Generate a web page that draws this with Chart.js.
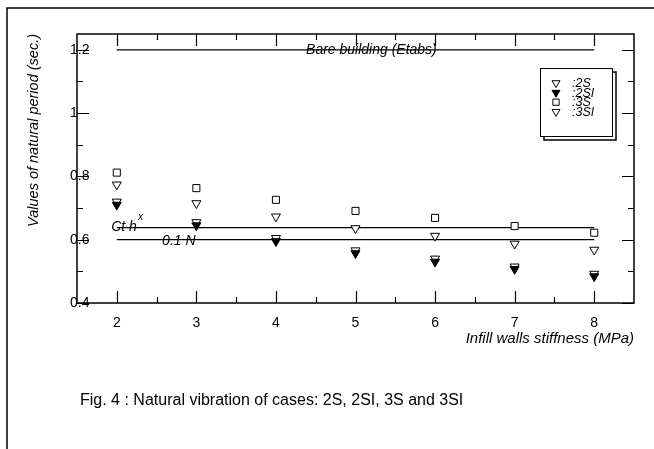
<!DOCTYPE html>
<html>
<head>
<meta charset="utf-8">
<script src="https://cdn.jsdelivr.net/npm/chart.js@4.4.0/dist/chart.umd.min.js"></script>
<style>
    body { margin: 0; background: #fff; }
    canvas { display: block; }
</style>
</head>
<body>
<canvas id="chart" width="654" height="449"></canvas>
<script>
// values
var stiffness = [2, 3, 4, 5, 6, 7, 8];
var period2S = [0.774, 0.715, 0.673, 0.636, 0.612, 0.587, 0.568];
var period2SI = [0.710, 0.645, 0.595, 0.557, 0.530, 0.507, 0.484];
var period3S = [0.812, 0.763, 0.726, 0.691, 0.669, 0.643, 0.622];
var period3SI = [0.720, 0.655, 0.605, 0.566, 0.540, 0.515, 0.492];
var seriesNames = ['2S', '2SI', '3S', '3SI'];

// horizontal reference values
var bareBuilding = 1.2;
var ctHx = 0.638;
var tenthN = 0.6;

var xTickValues = [2, 3, 4, 5, 6, 7, 8];
var yTickValues = [0.4, 0.6, 0.8, 1.0, 1.2];

var FONT = '"Liberation Sans", Arial, sans-serif';

var points = function (ys) {
    return stiffness.map(function (x, i) {
        return {x: x, y: ys[i]};
    });
};

var hline = function (y) {
    return [{x: stiffness[0], y: y}, {x: stiffness[stiffness.length - 1], y: y}];
};

var marker = function (label, ys, style, fill, rot) {
    return {
        label: label,
        data: points(ys),
        pointStyle: style,
        pointRotation: rot,
        pointRadius: style === 'rect' ? 5 : 5.2,
        pointBorderWidth: 1,
        backgroundColor: fill,
        borderColor: '#000',
        pointBackgroundColor: fill,
        pointBorderColor: '#000',
        showLine: false
    };
};

var refLine = function (label, y) {
    return {
        label: label,
        data: hline(y),
        showLine: true,
        borderColor: '#000',
        borderWidth: 1.2,
        pointRadius: 0,
        fill: false
    };
};

var tickValuesHook = function (values) {
    return function (scale) {
        scale.ticks = values.map(function (v) {
            return {value: v};
        });
    };
};

// frame, inward ticks, legend box and line annotations
var figurePlugin = {
    id: 'figure',
    afterDraw: function (chart) {
        var ctx = chart.ctx;
        var a = chart.chartArea;
        var xs = chart.scales.x;
        var ys = chart.scales.y;
        ctx.save();
        ctx.strokeStyle = '#000';
        ctx.fillStyle = '#000';

        // page frame (left and top only are visible)
        ctx.lineWidth = 1.5;
        ctx.beginPath();
        ctx.moveTo(7, 449);
        ctx.lineTo(7, 8);
        ctx.lineTo(654, 8);
        ctx.stroke();

        // plot frame
        ctx.strokeRect(a.left, a.top, a.right - a.left, a.bottom - a.top);

        // ticks pointing inward on all four sides
        ctx.lineWidth = 1.2;
        ctx.beginPath();
        var tickX = function (v, len) {
            var px = Math.round(xs.getPixelForValue(v)) + 0.5;
            ctx.moveTo(px, a.bottom);
            ctx.lineTo(px, a.bottom - len);
            ctx.moveTo(px, a.top);
            ctx.lineTo(px, a.top + len);
        };
        var tickY = function (v, len) {
            var py = Math.round(ys.getPixelForValue(v)) + 0.5;
            ctx.moveTo(a.left, py);
            ctx.lineTo(a.left + len, py);
            ctx.moveTo(a.right, py);
            ctx.lineTo(a.right - len, py);
        };
        xTickValues.forEach(function (v, i) {
            tickX(v, 12);
            if (i < xTickValues.length - 1) tickX((v + xTickValues[i + 1]) / 2, 6);
        });
        yTickValues.forEach(function (v, i) {
            tickY(v, 12);
            if (i < yTickValues.length - 1) tickY((v + yTickValues[i + 1]) / 2, 6);
        });
        ctx.stroke();

        // labels on the horizontal lines
        ctx.font = 'italic 14px ' + FONT;
        ctx.textBaseline = 'middle';
        ctx.textAlign = 'center';
        ctx.fillText('Bare building (Etabs)', xs.getPixelForValue(5.2), ys.getPixelForValue(bareBuilding));
        ctx.fillText('0.1 N', xs.getPixelForValue(2.78), ys.getPixelForValue(tenthN) + 1);
        ctx.textAlign = 'left';
        var cx = xs.getPixelForValue(1.93);
        var cy = ys.getPixelForValue(ctHx) - 1;
        ctx.font = 'italic 14px ' + FONT;
        ctx.fillText('Ct h', cx, cy);
        var w = ctx.measureText('Ct h').width;
        ctx.font = 'italic 10px ' + FONT;
        ctx.fillText('x', cx + w + 1, cy - 9);

        // legend box with shadow
        var lx = 540, ly = 68, lw = 72, lh = 68;
        ctx.lineWidth = 1.5;
        ctx.strokeRect(lx + 4, ly + 4, lw, lh);
        ctx.fillStyle = '#fff';
        ctx.fillRect(lx, ly, lw, lh);
        ctx.lineWidth = 1;
        ctx.strokeRect(lx + 0.5, ly + 0.5, lw, lh);
        chart.data.datasets.slice(0, 4).forEach(function (ds, i) {
            var y = ly + 15 + i * 9.6;
            ctx.fillStyle = ds.backgroundColor;
            ctx.strokeStyle = '#000';
            ctx.lineWidth = 1;
            Chart.helpers.drawPoint(ctx, {
                pointStyle: ds.pointStyle,
                radius: ds.pointStyle === 'rect' ? 4.4 : 4.6,
                rotation: ds.pointRotation,
                borderWidth: 1
            }, lx + 16, y);
            ctx.fillStyle = '#000';
            ctx.font = 'italic 12.5px ' + FONT;
            ctx.textAlign = 'left';
            ctx.fillText(':' + ds.label, lx + 32, y + 0.5);
        });

        // caption
        ctx.font = '16px ' + FONT;
        ctx.textAlign = 'left';
        ctx.fillText('Fig. 4 : Natural vibration of cases: 2S, 2SI, 3S and 3SI', 80, 401);
        ctx.restore();
    }
};

var chart = new Chart(document.getElementById('chart'), {
    type: 'scatter',
    data: {
        datasets: [
            marker(seriesNames[0], period2S, 'triangle', '#fff', 180),
            marker(seriesNames[1], period2SI, 'triangle', '#000', 180),
            marker(seriesNames[2], period3S, 'rect', '#fff', 0),
            marker(seriesNames[3], period3SI, 'triangle', '#fff', 180),
            refLine('Bare building (Etabs)', bareBuilding),
            refLine('Ct h^x', ctHx),
            refLine('0.1 N', tenthN)
        ]
    },
    options: {
        responsive: false,
        animation: false,
        layout: {padding: {left: 0, top: 34, right: 20, bottom: 0}},
        plugins: {
            legend: {display: false},
            tooltip: {enabled: false}
        },
        scales: {
            x: {
                type: 'linear',
                position: 'bottom',
                min: 1.5,
                max: 8.5,
                afterBuildTicks: tickValuesHook(xTickValues),
                afterFit: function (scale) { scale.height = 146; },
                grid: {display: false, drawTicks: false},
                border: {display: false},
                ticks: {
                    color: '#000',
                    padding: 12,
                    font: {family: FONT, size: 14},
                    callback: function (v) { return String(v); }
                },
                title: {
                    display: true,
                    text: 'Infill walls stiffness (MPa)',
                    align: 'end',
                    color: '#000',
                    font: {family: FONT, size: 15, style: 'italic'},
                    padding: {top: 0, bottom: 101}
                }
            },
            y: {
                type: 'linear',
                position: 'left',
                min: 0.4,
                max: 1.25,
                afterBuildTicks: tickValuesHook(yTickValues),
                afterFit: function (scale) { scale.width = 77; },
                grid: {display: false, drawTicks: false},
                border: {display: false},
                ticks: {
                    color: '#000',
                    mirror: true,
                    padding: -7,
                    font: {family: FONT, size: 14},
                    callback: function (v) { return String(Math.round(v * 10) / 10); }
                },
                title: {
                    display: true,
                    text: 'Values of natural period (sec.)',
                    align: 'end',
                    color: '#000',
                    font: {family: FONT, size: 14.5, style: 'italic'},
                    padding: {top: 25, bottom: 0}
                }
            }
        }
    },
    plugins: [figurePlugin]
});
</script>
</body>
</html>
